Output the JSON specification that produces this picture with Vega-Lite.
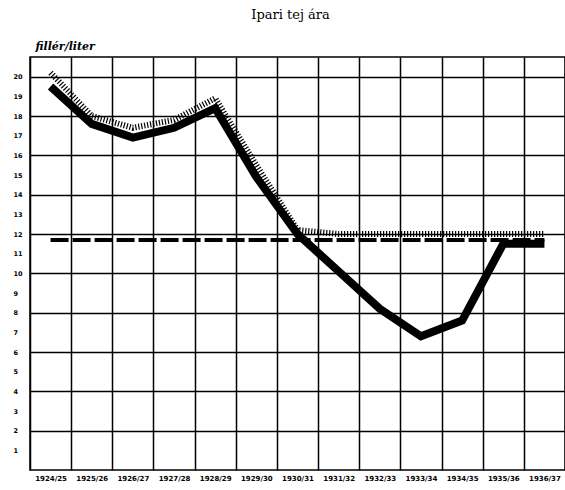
{
  "$schema": "https://vega.github.io/schema/vega-lite/v6.json",
  "width": 535,
  "height": 413,
  "autosize": "none",
  "padding": {"left": 30, "top": 57, "right": 0, "bottom": 20},
  "background": "white",
  "config": {
    "view": {"stroke": "black", "strokeWidth": 1.5},
    "font": "DejaVu Sans"
  },
  "title": {
    "text": "Ipari tej ára",
    "font": "DejaVu Serif",
    "fontSize": 13,
    "fontWeight": "normal",
    "color": "black",
    "anchor": "middle",
    "dx": -7,
    "offset": 18
  },
  "data": {
    "values": [
      {"i": 0, "season": "1924/25", "price": 19.5, "hatch": 20.2, "level": 11.7},
      {"i": 1, "season": "1925/26", "price": 17.6, "hatch": 18.0, "level": 11.7},
      {"i": 2, "season": "1926/27", "price": 16.9, "hatch": 17.4, "level": 11.7},
      {"i": 3, "season": "1927/28", "price": 17.4, "hatch": 17.8, "level": 11.7},
      {"i": 4, "season": "1928/29", "price": 18.4, "hatch": 18.9, "level": 11.7},
      {"i": 5, "season": "1929/30", "price": 14.9, "hatch": 15.5, "level": 11.7},
      {"i": 6, "season": "1930/31", "price": 12.0, "hatch": 12.2, "level": 11.7},
      {"i": 7, "season": "1931/32", "price": 10.1, "hatch": 12.0, "level": 11.7},
      {"i": 8, "season": "1932/33", "price": 8.2, "hatch": 12.0, "level": 11.7},
      {"i": 9, "season": "1933/34", "price": 6.8, "hatch": 12.0, "level": 11.7},
      {"i": 10, "season": "1934/35", "price": 7.6, "hatch": 12.0, "level": 11.7},
      {"i": 11, "season": "1935/36", "price": 11.5, "hatch": 12.0, "level": 11.7},
      {"i": 12, "season": "1936/37", "price": 11.5, "hatch": 12.0, "level": 11.7}
    ]
  },
  "encoding": {
    "x": {
      "field": "i",
      "type": "quantitative",
      "scale": {"domain": [-0.5, 12.5], "nice": false, "zero": false},
      "axis": {
        "title": null,
        "values": [-0.5, 0, 0.5, 1, 1.5, 2, 2.5, 3, 3.5, 4, 4.5, 5, 5.5, 6, 6.5, 7, 7.5, 8, 8.5, 9, 9.5, 10, 10.5, 11, 11.5, 12, 12.5],
        "labelExpr": "datum.value % 1 === 0 ? ['1924/25','1925/26','1926/27','1927/28','1928/29','1929/30','1930/31','1931/32','1932/33','1933/34','1934/35','1935/36','1936/37'][datum.value] : ''",
        "domain": false,
        "ticks": false,
        "grid": true,
        "gridColor": "black",
        "gridWidth": 1.5,
        "gridOpacity": {"condition": {"test": "datum.value % 1 !== 0", "value": 1}, "value": 0},
        "labelFont": "DejaVu Sans",
        "labelFontSize": 7,
        "labelFontWeight": "bold",
        "labelColor": "black",
        "labelPadding": 4,
        "labelOverlap": false,
        "labelFlush": false
      }
    },
    "y": {
      "field": "price",
      "type": "quantitative",
      "scale": {"domain": [0, 21], "nice": false},
      "axis": {
        "title": "fillér/liter",
        "titleAngle": 0,
        "titleAlign": "left",
        "titleBaseline": "bottom",
        "titleX": 5,
        "titleY": -6,
        "titleFont": "DejaVu Serif",
        "titleFontStyle": "italic",
        "titleFontWeight": "bold",
        "titleFontSize": 11,
        "titleColor": "black",
        "values": [1, 2, 3, 4, 5, 6, 7, 8, 9, 10, 11, 12, 13, 14, 15, 16, 17, 18, 19, 20],
        "domain": false,
        "ticks": false,
        "grid": true,
        "gridColor": "black",
        "gridWidth": 1.5,
        "gridOpacity": {"condition": {"test": "datum.value % 2 === 0", "value": 1}, "value": 0},
        "labelFont": "DejaVu Sans",
        "labelFontSize": 6.5,
        "labelFontWeight": "bold",
        "labelColor": "black",
        "labelPadding": 17,
        "labelAlign": "left",
        "labelOverlap": false
      }
    }
  },
  "layer": [
    {
      "mark": {"type": "line", "color": "black", "strokeWidth": 6, "strokeDash": [1.2, 1.8], "strokeCap": "butt"},
      "encoding": {"y": {"field": "hatch", "type": "quantitative"}}
    },
    {
      "mark": {"type": "line", "color": "black", "strokeWidth": 4, "strokeDash": [18, 4], "strokeCap": "butt"},
      "encoding": {"y": {"field": "level", "type": "quantitative"}}
    },
    {
      "mark": {"type": "line", "color": "black", "strokeWidth": 8, "strokeJoin": "miter", "strokeCap": "butt"},
      "encoding": {}
    }
  ]
}
